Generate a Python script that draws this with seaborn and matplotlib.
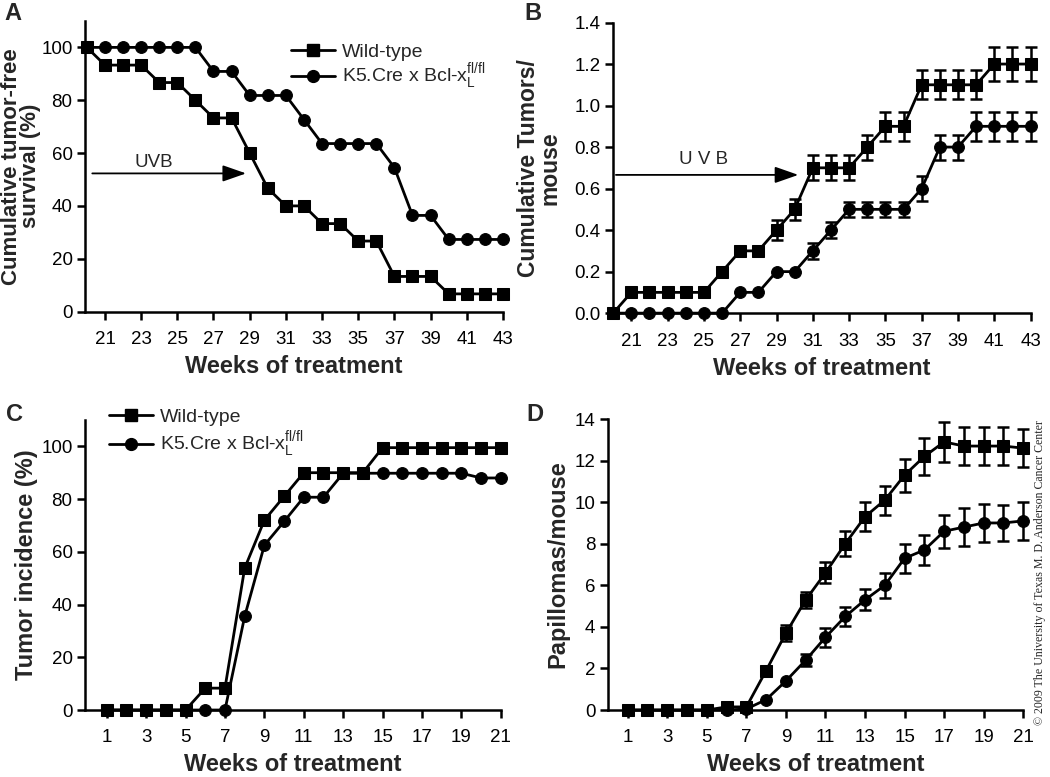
import numpy as np
import pandas as pd
import seaborn as sns
import matplotlib
matplotlib.use('Agg')
import matplotlib.pyplot as plt
from matplotlib.lines import Line2D

sns.set_style('ticks')
plt.rcParams['font.family'] = ['Liberation Sans', 'DejaVu Sans']
plt.rcParams['mathtext.fontset'] = 'custom'
plt.rcParams['mathtext.rm'] = 'Liberation Sans'

# ---------------- data ----------------
weeks_ab = list(range(20, 44))
weeks_cd = list(range(1, 22))

A_wt = [100, 93.3, 93.3, 93.3, 86.7, 86.7, 80, 73.3, 73.3, 60, 46.7, 40, 40,
        33.3, 33.3, 26.7, 26.7, 13.3, 13.3, 13.3, 6.7, 6.7, 6.7, 6.7]
A_k5 = [100, 100, 100, 100, 100, 100, 100, 90.9, 90.9, 81.8, 81.8, 81.8, 72.7,
        63.6, 63.6, 63.6, 63.6, 54.5, 36.4, 36.4, 27.3, 27.3, 27.3, 27.3]

B_wt = [0, 0.1, 0.1, 0.1, 0.1, 0.1, 0.2, 0.3, 0.3, 0.4, 0.5, 0.7, 0.7, 0.7,
        0.8, 0.9, 0.9, 1.1, 1.1, 1.1, 1.1, 1.2, 1.2, 1.2]
B_wt_err = [0, 0, 0, 0, 0, 0, 0, 0, 0, 0.05, 0.05, 0.06, 0.06, 0.06,
            0.06, 0.07, 0.07, 0.07, 0.07, 0.07, 0.07, 0.08, 0.08, 0.08]
B_k5 = [0, 0, 0, 0, 0, 0, 0, 0.1, 0.1, 0.2, 0.2, 0.3, 0.4, 0.5,
        0.5, 0.5, 0.5, 0.6, 0.8, 0.8, 0.9, 0.9, 0.9, 0.9]
B_k5_err = [0, 0, 0, 0, 0, 0, 0, 0, 0, 0, 0, 0.04, 0.04, 0.035,
            0.035, 0.035, 0.035, 0.06, 0.06, 0.06, 0.07, 0.07, 0.07, 0.07]

C_wt = [0, 0, 0, 0, 0, 8.3, 8.3, 53.8, 72, 81, 90, 90, 90, 90,
        99.5, 99.5, 99.5, 99.5, 99.5, 99.5, 99.5]
C_k5 = [0, 0, 0, 0, 0, 0, 0, 35.5, 62.5, 71.5, 80.7, 80.7, 89.8, 89.8,
        89.8, 89.8, 89.8, 89.8, 89.8, 88, 88]

D_wt = [0, 0, 0, 0, 0, 0.15, 0.15, 1.9, 3.7, 5.3, 6.6, 8.0, 9.3, 10.1,
        11.3, 12.2, 12.9, 12.7, 12.7, 12.7, 12.6]
D_wt_err = [0, 0, 0, 0, 0, 0, 0, 0, 0.4, 0.4, 0.5, 0.6, 0.7, 0.7,
            0.8, 0.9, 0.95, 0.9, 0.9, 0.9, 0.9]
D_k5 = [0, 0, 0, 0, 0, 0, 0.05, 0.5, 1.4, 2.4, 3.5, 4.5, 5.3, 6.0,
        7.3, 7.7, 8.6, 8.8, 9.0, 9.0, 9.1]
D_k5_err = [0, 0, 0, 0, 0, 0, 0, 0, 0, 0.3, 0.45, 0.45, 0.5, 0.6,
            0.7, 0.7, 0.8, 0.9, 0.9, 0.85, 0.9]

label_wt = 'Wild-type'
label_k5 = r'K5.Cre x Bcl-x$_\mathregular{L}^\mathregular{fl/fl}$'
xlabel = 'Weeks of treatment'

# ---------------- figure ----------------
fig = plt.figure(figsize=(10.5, 7.77), dpi=100)
axA = fig.add_axes([0.081, 0.599, 0.398, 0.374])
axB = fig.add_axes([0.584, 0.597, 0.3975, 0.374])
axC = fig.add_axes([0.081, 0.0862, 0.396, 0.3733])
axD = fig.add_axes([0.579, 0.0862, 0.3955, 0.3745])

LW = 2.0
MS_SQ = 8.5
MS_CI = 8.5


def draw(ax, x, y, err, marker, ms):
    if err is not None:
        xe = [a for a, e in zip(x, err) if e > 0]
        ye = [b for b, e in zip(y, err) if e > 0]
        ee = [e for e in err if e > 0]
        ax.errorbar(xe, ye, yerr=ee, fmt='none', ecolor='k', elinewidth=1.8,
                    capsize=4.5, capthick=1.8, zorder=2, clip_on=False)
    sns.lineplot(x=x, y=y, ax=ax, color='k', marker=marker, markersize=ms,
                 markeredgecolor='k', markerfacecolor='k', linewidth=LW,
                 zorder=3, legend=False, clip_on=False)


def style(ax, xlim, ylim, xticks, yticks, yfmt=None):
    sns.despine(ax=ax)
    ax.set_xlim(*xlim)
    ax.set_ylim(*ylim)
    ax.set_xticks(xticks)
    ax.set_yticks(yticks)
    if yfmt:
        ax.set_yticklabels([yfmt.format(v) for v in yticks])
    for s in ['left', 'bottom']:
        ax.spines[s].set_linewidth(1.8)
        ax.spines[s].set_color('k')
    ax.tick_params(axis='both', direction='out', length=6, width=1.8,
                   color='k', labelsize=13.5, labelcolor='k')
    ax.tick_params(axis='x', pad=8)
    ax.tick_params(axis='y', pad=3)
    ax.set_xlabel(xlabel, fontsize=17, fontweight='bold', labelpad=5)


# Panel A
draw(axA, weeks_ab, A_wt, None, 's', MS_SQ)
draw(axA, weeks_ab, A_k5, None, 'o', MS_CI)
style(axA, (19.9, 43), (0, 110), list(range(21, 44, 2)), list(range(0, 101, 20)))
axA.set_ylabel('Cumulative tumor-free\nsurvival (%)', fontsize=16,
               fontweight='bold', linespacing=0.88)
axA.yaxis.set_label_coords(-0.105, 0.5)
axA.annotate('', xy=(28.8, 52.3), xytext=(20.3, 52.3),
             arrowprops=dict(arrowstyle='-|>,head_length=0.6,head_width=0.21',
                             mutation_scale=24, lw=1.3, color='k',
                             shrinkA=0, shrinkB=0))
axA.text(23.7, 56.5, 'UVB', fontsize=13.5, ha='center', va='center')

# Panel B
draw(axB, weeks_ab, B_wt, B_wt_err, 's', MS_SQ)
draw(axB, weeks_ab, B_k5, B_k5_err, 'o', MS_CI)
style(axB, (20, 43), (0, 1.4), list(range(21, 44, 2)),
      [0, 0.2, 0.4, 0.6, 0.8, 1.0, 1.2, 1.4], yfmt='{:.1f}')
axB.set_ylabel('Cumulative Tumors/\nmouse', fontsize=16.5,
               fontweight='bold', linespacing=0.88)
axB.yaxis.set_label_coords(-0.125, 0.5)
axB.annotate('', xy=(30.2, 0.666), xytext=(20.15, 0.666),
             arrowprops=dict(arrowstyle='-|>,head_length=0.6,head_width=0.21',
                             mutation_scale=24, lw=1.3, color='k',
                             shrinkA=0, shrinkB=0))
axB.text(25.0, 0.74, 'U V B', fontsize=13.5, ha='center', va='center')

# Panel C
draw(axC, weeks_cd, C_wt, None, 's', MS_SQ)
draw(axC, weeks_cd, C_k5, None, 'o', MS_CI)
style(axC, (-0.1, 21), (0, 110), list(range(1, 22, 2)), list(range(0, 101, 20)))
axC.set_ylabel('Tumor incidence (%)', fontsize=17, fontweight='bold')
axC.yaxis.set_label_coords(-0.113, 0.5)

# Panel D
draw(axD, weeks_cd, D_wt, D_wt_err, 's', MS_SQ)
draw(axD, weeks_cd, D_k5, D_k5_err, 'o', MS_CI)
style(axD, (0, 21), (0, 14), list(range(1, 22, 2)), list(range(0, 15, 2)))
axD.set_ylabel('Papillomas/mouse', fontsize=17, fontweight='bold')
axD.yaxis.set_label_coords(-0.092, 0.5)

# Legends
def handles():
    return [Line2D([], [], color='k', lw=LW, marker='s', markersize=MS_SQ),
            Line2D([], [], color='k', lw=LW, marker='o', markersize=MS_CI)]

axA.legend(handles(), [label_wt, label_k5], loc='center left',
           bbox_to_anchor=(0.493, 0.839), frameon=False, fontsize=14,
           handlelength=2.27, handletextpad=0.36, labelspacing=0.05,
           borderpad=0, borderaxespad=0)
axC.legend(handles(), [label_wt, label_k5], loc='center left',
           bbox_to_anchor=(0.058, 0.951), frameon=False, fontsize=14,
           handlelength=2.27, handletextpad=0.36, labelspacing=0.25,
           borderpad=0, borderaxespad=0)

# Panel letters
for lab, x, y in [('A', 0.012, 0.983), ('B', 0.508, 0.983),
                  ('C', 0.014, 0.467), ('D', 0.509, 0.467)]:
    fig.text(x, y, lab, fontsize=17, fontweight='bold', ha='center', va='center')

fig.text(0.990, 0.2625,
         '\u00a9 2009 The University of Texas M. D. Anderson Cancer Center',
         rotation=90, ha='center', va='center', fontsize=8.6,
         family=['Liberation Serif', 'DejaVu Serif'])

fig.savefig('out.png', dpi=100)
